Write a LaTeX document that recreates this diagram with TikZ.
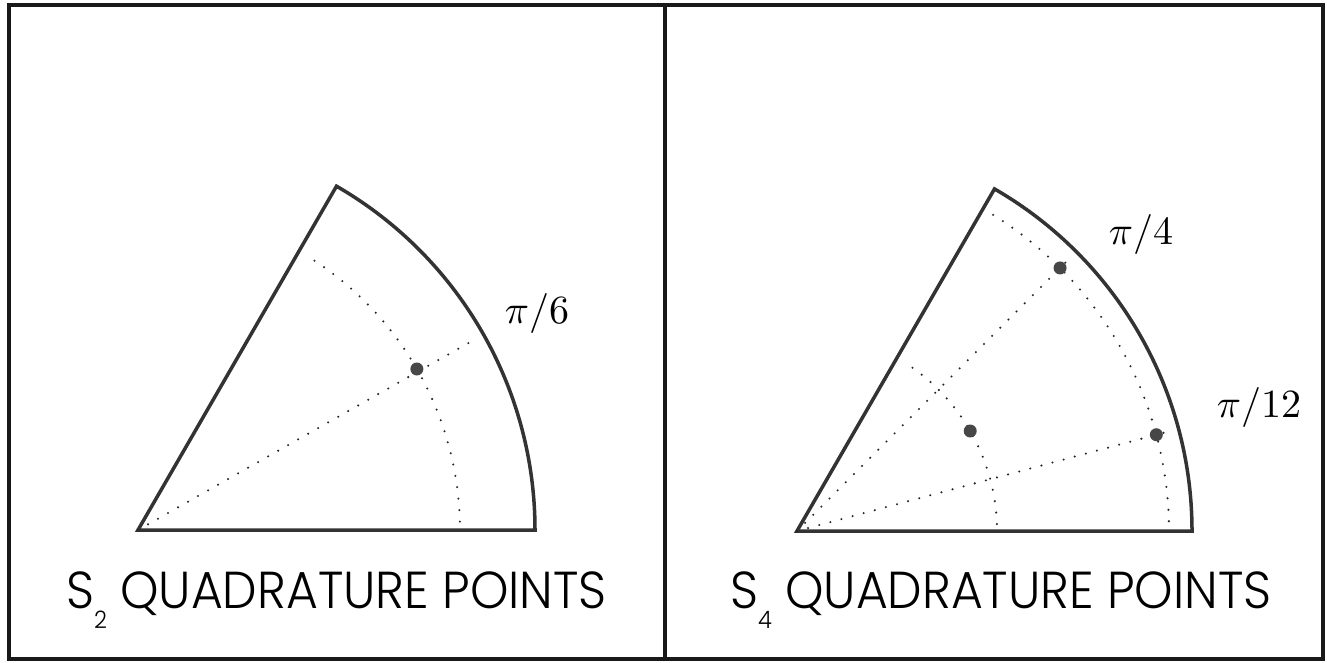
\documentclass[tikz,border=0pt]{standalone}
\usepackage{fontspec}
\newfontfamily\capfont{Poppins Light}
\begin{document}
\begin{tikzpicture}[x=1pt,y=1pt,
  outline/.style={line width=3.5pt, draw=black!80, line join=miter},
  frame/.style={line width=4pt, draw=black!90},
  dotline/.style={line width=2.3pt, draw=black!85, line cap=round, dash pattern=on 0pt off 11.5pt},
  qpoint/.style={circle, fill=black!72, inner sep=0pt, minimum size=13pt},
  anglabel/.style={anchor=base, inner sep=0pt},
  title/.style={font=\capfont\fontsize{52}{52}\selectfont, anchor=base west, inner sep=0pt}]
\useasboundingbox (0,0) rectangle (1327,662);
% frame
\draw[frame] (9,3) rectangle (1323,657);
\coordinate (dtop) at (665,657);
\coordinate (dbot) at (665,3);
\draw[frame] (dtop) -- (dbot);
% left panel: S2
\begin{scope}[shift={(138,132)}]
  \coordinate (O1) at (0,0);
  \coordinate (E1) at (0:397);
  \coordinate (a1s) at (1.5:322);
  \coordinate (r1) at (29.5:390);
  \draw[outline] (O1) -- (E1) arc[start angle=0, end angle=60, radius=397] -- cycle;
  \draw[dotline] (a1s) arc[start angle=1.5, end angle=58, radius=322];
  \draw[dotline] (O1) -- (r1);
  \node[qpoint] (p1) at (30:322) {};
\end{scope}
\node[anglabel] (l1) at (537,339) {\scalebox{4}{$\pi/6$}};
\node[title] (t1) at (66,54) {\scalebox{0.94}[1]{S\raisebox{-20pt}{\fontsize{24}{24}\selectfont 2}\hspace{14pt}QUADRATURE POINTS}};
% right panel: S4
\begin{scope}[shift={(797,131)}]
  \coordinate (O2) at (0,0);
  \coordinate (E2) at (0:395);
  \coordinate (a2s) at (1.5:372);
  \coordinate (a3s) at (2:200);
  \coordinate (r2) at (45:386);
  \coordinate (r3) at (15:386);
  \draw[outline] (O2) -- (E2) arc[start angle=0, end angle=60, radius=395] -- cycle;
  \draw[dotline] (a2s) arc[start angle=1.5, end angle=58.5, radius=372];
  \draw[dotline] (a3s) arc[start angle=2, end angle=58, radius=200];
  \draw[dotline] (O2) -- (r2);
  \draw[dotline] (O2) -- (r3);
  \node[qpoint] (p2) at (45:372) {};
  \node[qpoint] (p3) at (15:372) {};
  \node[qpoint] (p4) at (30:200) {};
\end{scope}
\node[anglabel] (l2) at (1141,417) {\scalebox{4}{$\pi/4$}};
\node[anglabel] (l3) at (1259,245) {\scalebox{4}{$\pi/12$}};
\node[title] (t2) at (730,54) {\scalebox{0.94}[1]{S\raisebox{-20pt}{\fontsize{24}{24}\selectfont 4}\hspace{14pt}QUADRATURE POINTS}};
\end{tikzpicture}
\end{document}
